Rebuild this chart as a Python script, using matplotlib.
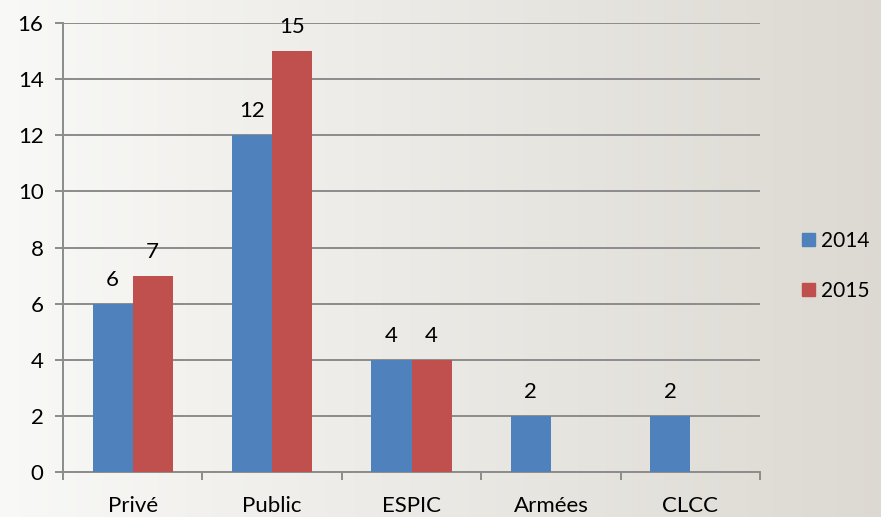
import numpy as np
import matplotlib.pyplot as plt
from matplotlib.patches import Patch

categories = ['Privé', 'Public', 'ESPIC', 'Armées', 'CLCC']
values_2014 = [6, 12, 4, 2, 2]
values_2015 = [7, 15, 4, np.nan, np.nan]
yticks = [0, 2, 4, 6, 8, 10, 12, 14, 16]

plt.rcParams['font.family'] = ['Lato', 'DejaVu Sans']

fig = plt.figure(figsize=(8.81, 5.17), dpi=100)

# background gradient, light at left, warm gray at right
bg = fig.add_axes([0, 0, 1, 1], zorder=-10)
grad = np.linspace(0, 1, 256)
c0 = np.array([0.975, 0.975, 0.968])
c1 = np.array([0.865, 0.852, 0.825])
img = c0[None, :] + (c1 - c0)[None, :] * grad[:, None]
bg.imshow(img[None, :, :], aspect='auto', extent=[0, 1, 0, 1])
bg.axis('off')

ax = fig.add_axes([63 / 881, 45 / 517, 697 / 881, 449 / 517])
ax.patch.set_alpha(0)

x = np.arange(len(categories))
w = 0.287
blue = '#4f81bd'
red = '#c0504d'
fs = 16
ax.bar(x - w / 2, values_2014, w, color=blue, zorder=3, label='2014')
ax.bar(x + w / 2, values_2015, w, color=red, zorder=3, label='2015')

for xi, v in zip(x, values_2014):
    ax.text(xi - w / 2, v + 0.5, f'{v:g}', ha='center', va='bottom', fontsize=fs)
for xi, v in zip(x, values_2015):
    if not np.isnan(v):
        ax.text(xi + w / 2, v + 0.5, f'{v:g}', ha='center', va='bottom', fontsize=fs)

ax.set_xlim(-0.5, len(categories) - 0.5)
ax.set_ylim(0, 16)
ax.set_yticks(yticks)
ax.set_yticklabels([str(t) for t in yticks], fontsize=fs)
ax.yaxis.grid(True, color='#8c8c8c', linewidth=1.4, zorder=0)
ax.set_axisbelow(True)

ax.set_xticks(np.arange(-0.5, len(categories), 1.0))
ax.set_xticklabels([])
ax.set_xticks(x, minor=True)
ax.set_xticklabels(categories, minor=True, fontsize=fs)
ax.tick_params(axis='x', which='minor', length=0, pad=17)
ax.tick_params(axis='x', which='major', length=6, color='#8c8c8c', width=1.4)
ax.tick_params(axis='y', length=6, color='#8c8c8c', width=1.4, pad=8)

for s in ['top', 'right']:
    ax.spines[s].set_visible(False)
for s in ['left', 'bottom']:
    ax.spines[s].set_color('#8c8c8c')
    ax.spines[s].set_linewidth(1.4)

handles = [Patch(color=blue, label='2014'), Patch(color=red, label='2015')]
fig.legend(handles=handles, loc='center left', bbox_to_anchor=(796 / 881, 1 - 266 / 517),
           frameon=False, fontsize=15, handlelength=0.6, handleheight=0.6,
           handletextpad=0.3, labelspacing=1.45, borderaxespad=0, borderpad=0.3)

fig.savefig('out.png', dpi=100)
